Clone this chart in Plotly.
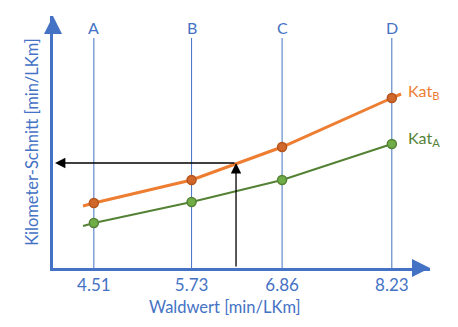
import plotly.graph_objects as go

# Data
categories = ["A", "B", "C", "D"]
waldwert = [4.51, 5.73, 6.86, 8.23]
tick_labels = ["4.51", "5.73", "6.86", "8.23"]
kat_b = [65, 88, 121, 170]
kat_a = [45, 66, 88, 124]
# line ends
kat_b_line_x = [4.375, 4.51, 5.73, 6.86, 8.23, 8.345]
kat_b_line_y = [62, 65, 88, 121, 170, 174]
kat_a_line_x = [4.375, 4.51, 5.73, 6.86, 8.23]
kat_a_line_y = [42, 45, 66, 88, 124]
read_x = 6.285
read_y = 105

BLUE = "#4472C4"
ORANGE = "#ED7D31"
GREEN = "#548235"
FONT = "Lato"

W, H = 458, 327
ml, mr, mt, mb = 53, 28, 16, 59
x_range = [4.0, 4.0 + (W - ml - mr) / 80.1]
y_range = [0, H - mt - mb]

fig = go.Figure()

# vertical category lines
for c, xv in zip(categories, waldwert):
    fig.add_trace(go.Scatter(x=[xv, xv], y=[0, 230], mode="lines",
                             line=dict(color=BLUE, width=1), showlegend=False, hoverinfo="skip"))
    fig.add_annotation(x=xv, y=241, text=c, showarrow=False, yanchor="middle",
                       font=dict(family=FONT, size=16, color=BLUE))

fig.add_trace(go.Scatter(x=kat_a_line_x, y=kat_a_line_y, mode="lines",
                         line=dict(color=GREEN, width=2), showlegend=False))
fig.add_trace(go.Scatter(x=waldwert, y=kat_a, mode="markers",
                         marker=dict(color="#70AD47", size=9, line=dict(color=GREEN, width=1.5)),
                         showlegend=False))
fig.add_trace(go.Scatter(x=kat_b_line_x, y=kat_b_line_y, mode="lines",
                         line=dict(color=ORANGE, width=3), showlegend=False))
fig.add_trace(go.Scatter(x=waldwert, y=kat_b, mode="markers",
                         marker=dict(color="#D0682E", size=9, line=dict(color="#B5531C", width=1.5)),
                         showlegend=False))

# series labels
fig.add_annotation(x=waldwert[-1], y=kat_b[-1], xshift=14, yshift=7, text="Kat<sub>B</sub>",
                   showarrow=False, xanchor="left", font=dict(family=FONT, size=16, color=ORANGE))
fig.add_annotation(x=waldwert[-1], y=kat_a[-1], xshift=14, yshift=6, text="Kat<sub>A</sub>",
                   showarrow=False, xanchor="left", font=dict(family=FONT, size=16, color=GREEN))

# black reading arrows
fig.add_annotation(x=4.025, y=read_y, ax=read_x, ay=read_y, xref="x", yref="y", axref="x", ayref="y",
                   showarrow=True, arrowhead=2, arrowsize=1.6, arrowwidth=1.3, arrowcolor="black", text="")
fig.add_annotation(x=read_x, y=read_y, ax=read_x, ay=0, xref="x", yref="y", axref="x", ayref="y",
                   showarrow=True, arrowhead=2, arrowsize=1.6, arrowwidth=1.3, arrowcolor="black", text="")

# axis arrowheads
fig.add_annotation(x=0, y=1, xref="paper", yref="paper", ax=0, ay=12, showarrow=True,
                   arrowhead=2, arrowsize=1.2, arrowwidth=3, arrowcolor=BLUE, text="")
fig.add_annotation(x=1, y=0, xref="paper", yref="paper", ax=-12, ay=0, showarrow=True,
                   arrowhead=2, arrowsize=1.2, arrowwidth=3, arrowcolor=BLUE, text="")

# x axis title
fig.add_annotation(x=(225 - ml) / (W - ml - mr), y=-(307 - (H - mb)) / (H - mt - mb),
                   xref="paper", yref="paper", text="Waldwert [min/LKm]", showarrow=False,
                   xanchor="center", yanchor="middle", font=dict(family=FONT, size=16.5, color=BLUE))

fig.update_layout(
    width=W, height=H,
    margin=dict(l=ml, r=mr, t=mt, b=mb),
    plot_bgcolor="white", paper_bgcolor="white",
    font=dict(family=FONT, color=BLUE, size=16),
    xaxis=dict(range=x_range, tickvals=waldwert, ticktext=tick_labels, showgrid=False,
               zeroline=False, showline=True, linecolor=BLUE, linewidth=3, ticks="",
               tickfont=dict(family=FONT, size=17, color=BLUE)),
    yaxis=dict(range=y_range, showticklabels=False, showgrid=False, zeroline=False,
               showline=True, linecolor=BLUE, linewidth=3, ticks="",
               title=dict(text="Kilometer-Schnitt [min/LKm]", font=dict(family=FONT, size=16.5, color=BLUE), standoff=8)),
)

fig.write_html("out.html")
